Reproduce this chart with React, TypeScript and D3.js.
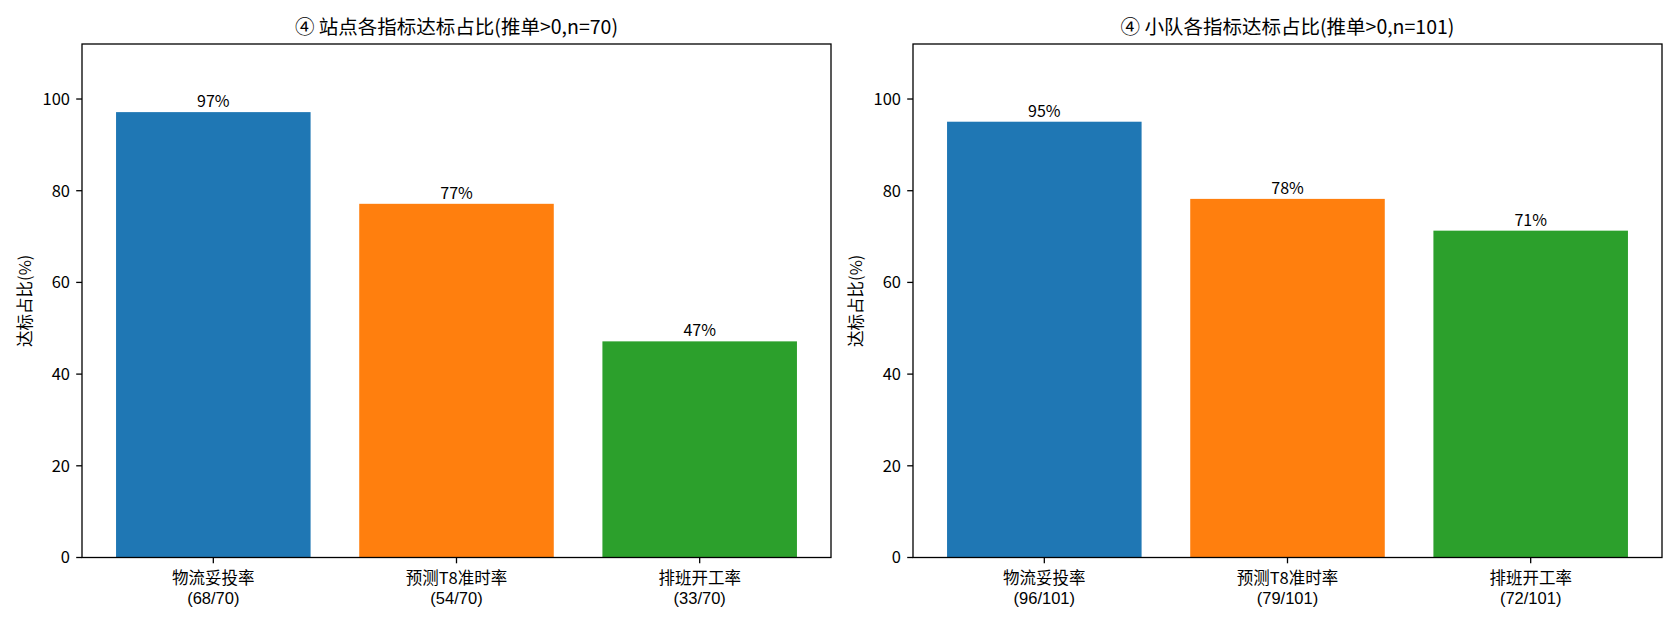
import { useRef, useEffect } from "react";
import * as d3 from "d3";

const categories = ["物流妥投率", "预测T8准时率", "排班开工率"];
const colors = ["#1f77b4", "#ff7f0e", "#2ca02c"];
const yTicks = [0, 20, 40, 60, 80, 100];

const stationTitle = "④ 站点各指标达标占比(推单>0,n=70)";
const stationHit = [68, 54, 33];
const stationTotal = 70;

const teamTitle = "④ 小队各指标达标占比(推单>0,n=101)";
const teamHit = [96, 79, 72];
const teamTotal = 101;

const yLabel = "达标占比(%)";
const FONT = "'Noto Sans CJK SC', 'Noto Sans', sans-serif";
const NUM_FONT = "'Liberation Sans', 'Noto Sans', sans-serif";

const WIDTH = 1680;
const HEIGHT = 624;
const PANELS = [
  { left: 82, title: stationTitle, hit: stationHit, total: stationTotal },
  { left: 913, title: teamTitle, hit: teamHit, total: teamTotal },
];
const AX_W = 749;
const AX_TOP = 44;
const AX_BOTTOM = 557.5;

export default function App() {
  const svgRef = useRef<SVGSVGElement>(null);

  useEffect(() => {
    document.body.style.margin = "0";
    if (!svgRef.current) return;
    const svg = d3.select(svgRef.current);
    svg.selectAll("*").remove();

    const yScale = d3.scaleLinear().domain([0, 112]).range([AX_BOTTOM, AX_TOP]);
    const xScale = d3.scaleLinear().domain([-0.54, 2.54]).range([0, AX_W]);
    const barW = xScale(0.8) - xScale(0);

    PANELS.forEach((p) => {
      const g = svg.append("g").attr("transform", `translate(${p.left},0)`);
      const pct = p.hit.map((h) => (h / p.total) * 100);

      // bars + value labels
      pct.forEach((v, i) => {
        g.append("rect")
          .attr("x", xScale(i) - barW / 2)
          .attr("y", yScale(v))
          .attr("width", barW)
          .attr("height", yScale(0) - yScale(v))
          .attr("fill", colors[i]);

        g.append("text")
          .attr("x", xScale(i))
          .attr("y", yScale(v) - 5)
          .attr("text-anchor", "middle")
          .attr("font-size", "16px")
          .attr("fill", "#000")
          .text(`${Math.round(v)}%`);
      });

      // y axis
      yTicks.forEach((t) => {
        g.append("line")
          .attr("x1", -5.8)
          .attr("x2", 0)
          .attr("y1", yScale(t))
          .attr("y2", yScale(t))
          .attr("stroke", "#000")
          .attr("stroke-width", 1.3);
        g.append("text")
          .attr("x", -12)
          .attr("y", yScale(t))
          .attr("dy", "0.36em")
          .attr("text-anchor", "end")
          .attr("font-size", "16.5px")
          .text(t);
      });

      // x axis ticks + two-line labels
      categories.forEach((c, i) => {
        g.append("line")
          .attr("x1", xScale(i))
          .attr("x2", xScale(i))
          .attr("y1", AX_BOTTOM)
          .attr("y2", AX_BOTTOM + 5.8)
          .attr("stroke", "#000")
          .attr("stroke-width", 1.3);
        g.append("text")
          .attr("x", xScale(i))
          .attr("y", AX_BOTTOM + 26.5)
          .attr("text-anchor", "middle")
          .attr("font-size", "16.5px")
          .text(c);
        g.append("text")
          .attr("x", xScale(i))
          .attr("y", AX_BOTTOM + 46)
          .attr("text-anchor", "middle")
          .attr("font-size", "16.5px")
          .attr("font-family", NUM_FONT)
          .text(`(${p.hit[i]}/${p.total})`);
      });

      // frame
      g.append("rect")
        .attr("x", 0)
        .attr("y", AX_TOP)
        .attr("width", AX_W)
        .attr("height", AX_BOTTOM - AX_TOP)
        .attr("fill", "none")
        .attr("stroke", "#000")
        .attr("stroke-width", 1.3);

      // y label
      g.append("text")
        .attr("transform", `translate(-57,${(AX_TOP + AX_BOTTOM) / 2}) rotate(-90)`)
        .attr("text-anchor", "middle")
        .attr("dy", "0.35em")
        .attr("font-size", "16.5px")
        .text(yLabel);

      // title
      g.append("text")
        .attr("x", AX_W / 2)
        .attr("y", AX_TOP - 10)
        .attr("text-anchor", "middle")
        .attr("font-size", "19.5px")
        .text(p.title);
    });
  }, []);

  return (
    <svg
      ref={svgRef}
      width={WIDTH}
      height={HEIGHT}
      viewBox={`0 0 ${WIDTH} ${HEIGHT}`}
      style={{ display: "block", background: "#fff", fontFamily: FONT }}
    />
  );
}
